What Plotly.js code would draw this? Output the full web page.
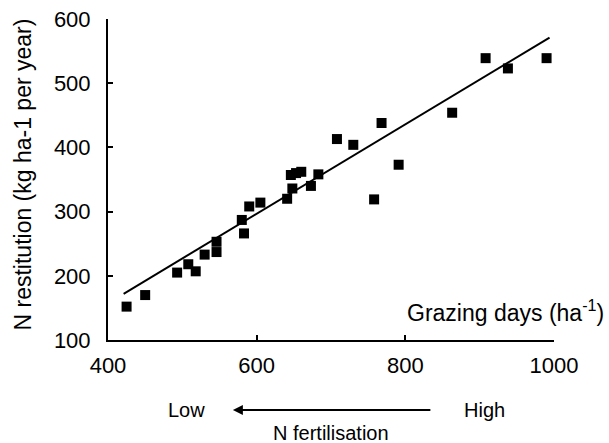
<!DOCTYPE html>
<html>
<head>
<meta charset="utf-8">
<script src="https://cdn.plot.ly/plotly-3.0.1.min.js"></script>
<style>html,body{margin:0;padding:0;background:#fff;}#chart{width:609px;height:443px;}</style>
</head>
<body>
<div id="chart"></div>
<script>
const grazingDays = [425, 450, 493, 508, 518, 530, 546, 546, 580, 583, 590, 605, 641, 646, 648, 653, 660, 673, 683, 708, 730, 758, 768, 791, 863, 908, 938, 990];
const nRestitution = [152, 170, 205, 218, 207, 233, 253, 237, 287, 266, 308, 314, 320, 357, 336, 360, 362, 340, 358, 413, 404, 319, 438, 373, 454, 539, 523, 539];
// Fitted trend line end points
const trendX = [421, 994];
const trendY = [172, 571];
const xTicks = [400, 600, 800, 1000];
const yTicks = [100, 200, 300, 400, 500, 600];

const font = {family: 'Arial, "Liberation Sans", sans-serif', color: '#000'};

const traces = [
  {x: trendX, y: trendY, type: 'scatter', mode: 'lines', line: {color: '#000', width: 2}, hoverinfo: 'skip'},
  {x: grazingDays, y: nRestitution, type: 'scatter', mode: 'markers',
   marker: {symbol: 'square', size: 10, color: '#000'}}
];

const axisCommon = {
  showgrid: false, zeroline: false, showline: true, linecolor: '#000', linewidth: 2,
  ticks: 'inside', ticklen: 5, tickwidth: 2, tickcolor: '#000',
  tickfont: Object.assign({size: 22}, font), fixedrange: true
};

const layout = {
  width: 609, height: 443,
  margin: {l: 108, r: 55, t: 19, b: 103},
  paper_bgcolor: '#fff', plot_bgcolor: '#fff',
  showlegend: false,
  font: font,
  xaxis: Object.assign({}, axisCommon, {range: [400, 1000], tickvals: xTicks, ticktext: xTicks.map(String), ticklabelstandoff: 5}),
  yaxis: Object.assign({}, axisCommon, {range: [100, 600], tickvals: yTicks, ticktext: yTicks.map(String), ticklabelstandoff: 11}),
  annotations: [
    {text: 'N restitution (kg ha-1 per year)', xref: 'paper', yref: 'paper', x: 0, y: 0.5, xshift: -86, yshift: 5,
     textangle: -90, showarrow: false, xanchor: 'center', yanchor: 'middle', font: Object.assign({size: 23}, font)},
    {text: 'Grazing days (ha<sup>-1</sup>)', xref: 'paper', yref: 'paper', x: 1.116, y: 0.09,
     showarrow: false, xanchor: 'right', yanchor: 'middle', font: Object.assign({size: 23}, font)},
    {text: 'Low', xref: 'paper', yref: 'paper', x: 0.175, y: -0.218, showarrow: false,
     xanchor: 'center', yanchor: 'middle', font: Object.assign({size: 20}, font)},
    {text: 'High', xref: 'paper', yref: 'paper', x: 0.845, y: -0.218, showarrow: false,
     xanchor: 'center', yanchor: 'middle', font: Object.assign({size: 20}, font)},
    {text: 'N fertilisation', xref: 'paper', yref: 'paper', x: 0.5, y: -0.29, showarrow: false,
     xanchor: 'center', yanchor: 'middle', font: Object.assign({size: 20}, font)},
    {text: '', xref: 'paper', yref: 'paper', x: 0.28, y: -0.218, ax: 199, ay: 0, axref: 'pixel', ayref: 'pixel',
     showarrow: true, arrowhead: 2, arrowsize: 1, arrowwidth: 2, arrowcolor: '#000'}
  ]
};

Plotly.newPlot('chart', traces, layout, {staticPlot: true, displayModeBar: false});
</script>
</body>
</html>
